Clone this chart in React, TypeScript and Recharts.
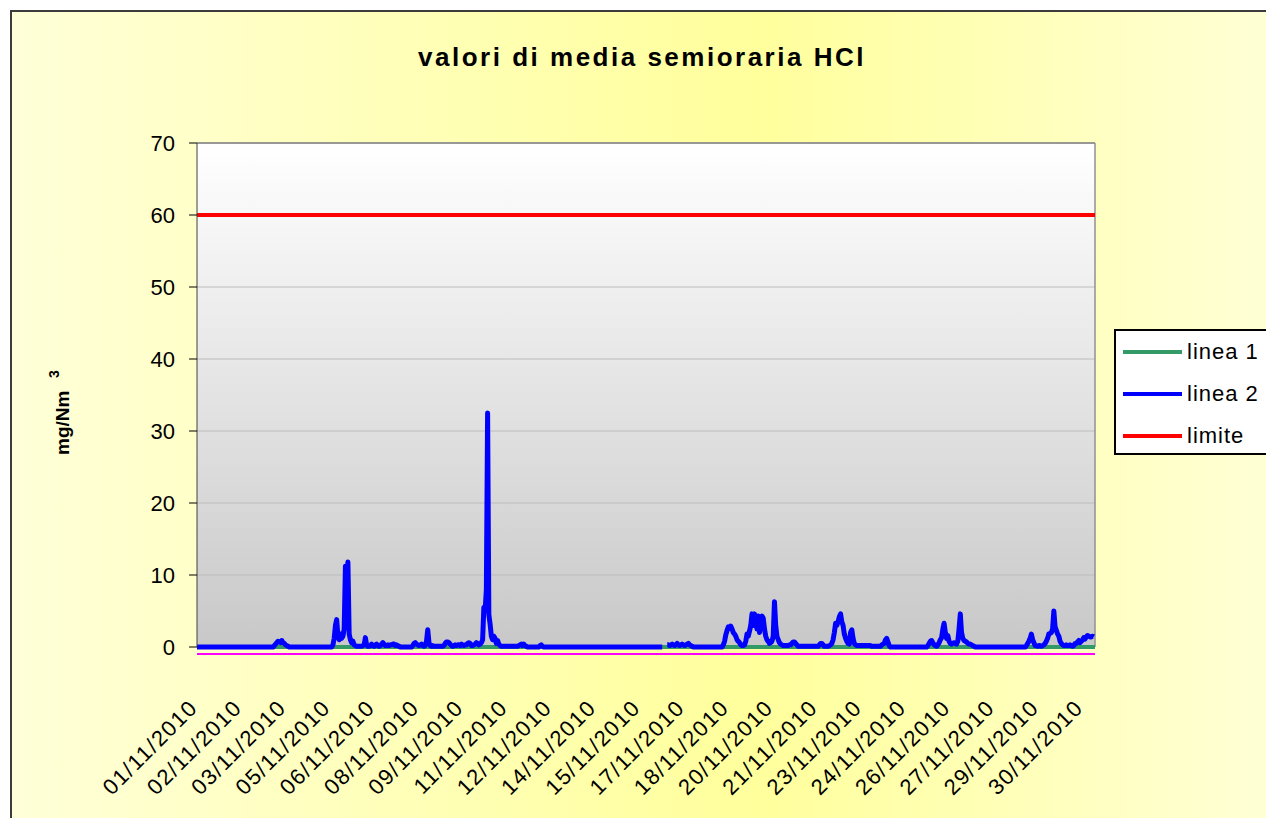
import { CartesianGrid, Line, LineChart, ReferenceLine, XAxis, YAxis } from "recharts";

const FONT = '"Liberation Sans", Arial, sans-serif';

// linea 2, hourly readings of the half-hour means, one row per day (01/11 .. 30/11)
const linea2ByDay: (number | null)[][] = [
  [0, 0, 0, 0, 0, 0, 0, 0, 0, 0, 0, 0, 0, 0, 0, 0, 0, 0, 0, 0, 0, 0, 0, 0],
  [0, 0, 0, 0, 0, 0, 0, 0, 0, 0, 0, 0, 0, 0, 0, 0, 0, 0, 0, 0, 0, 0, 0, 0],
  [0, 0, 0, 0, 0, 0, 0, 0, 0, 0, 0, 0, 0, 0, 0.2, 0.4, 0.6, 0.8, 0.7, 0.6, 0.9, 0.6, 0.5, 0.3],
  [0.2, 0.1, 0, 0, 0, 0, 0, 0, 0, 0, 0, 0, 0, 0, 0, 0, 0, 0, 0, 0, 0, 0, 0, 0],
  [0, 0, 0, 0, 0, 0, 0, 0, 0, 0, 0, 0, 0, 0.3, 1.2, 3.0, 3.8, 1.5, 1.0, 1.8, 1.2, 1.5, 2.5, 11.2],
  [10.0, 11.8, 1.8, 1.0, 0.6, 0.8, 0.3, 0.2, 0.1, 0.1, 0.1, 0.1, 0.1, 0.2, 0.3, 1.3, 0.3, 0.1, 0.1, 0.2, 0.4, 0.2, 0.1, 0.3],
  [0.4, 0.2, 0.1, 0.2, 0.4, 0.6, 0.4, 0.2, 0.2, 0.3, 0.2, 0.3, 0.3, 0.4, 0.4, 0.2, 0.3, 0.2, 0.1, 0, 0, 0, 0, 0],
  [0, 0, 0, 0, 0, 0.2, 0.5, 0.6, 0.4, 0.3, 0.2, 0.3, 0.4, 0.2, 0.1, 0.2, 0.8, 2.4, 0.6, 0.2, 0.1, 0.2, 0.1, 0.1],
  [0.1, 0.1, 0.1, 0.1, 0.1, 0.1, 0.2, 0.5, 0.7, 0.7, 0.6, 0.4, 0.2, 0.1, 0.2, 0.3, 0.2, 0.3, 0.3, 0.2, 0.4, 0.3, 0.2, 0.3],
  [0.3, 0.5, 0.6, 0.5, 0.2, 0.2, 0.3, 0.4, 0.6, 0.5, 0.3, 0.4, 0.6, 1.0, 5.5, 5.0, 8.0, 32.5, 4.5, 3.2, 1.5, 1.0, 1.5, 1.2],
  [0.5, 0.9, 0.4, 0.2, 0.1, 0.1, 0.1, 0.1, 0.1, 0.1, 0.1, 0.1, 0.1, 0.1, 0.1, 0.1, 0.1, 0.1, 0.2, 0.3, 0.4, 0.2, 0.4, 0.2],
  [0.1, 0, 0, 0, 0, 0, 0, 0, 0, 0, 0, 0.2, 0.3, 0.1, 0, 0, 0, 0, 0, 0, 0, 0, 0, 0],
  [0, 0, 0, 0, 0, 0, 0, 0, 0, 0, 0, 0, 0, 0, 0, 0, 0, 0, 0, 0, 0, 0, 0, 0],
  [0, 0, 0, 0, 0, 0, 0, 0, 0, 0, 0, 0, 0, 0, 0, 0, 0, 0, 0, 0, 0, 0, 0, 0],
  [0, 0, 0, 0, 0, 0, 0, 0, 0, 0, 0, 0, 0, 0, 0, 0, 0, 0, 0, 0, 0, 0, 0, 0],
  [0, 0, 0, 0, 0, 0, 0, 0, 0, 0, 0, 0, 0, 0, null, null, null, 0.3, 0.3, 0.2, 0.3, 0.4, 0.3, 0.2],
  [0.3, 0.5, 0.3, 0.2, 0.3, 0.4, 0.3, 0.2, 0.3, 0.4, 0.5, 0.3, 0.2, 0.1, 0, 0, 0, 0, 0, 0, 0, 0, 0, 0],
  [0, 0, 0, 0, 0, 0, 0, 0, 0, 0, 0, 0, 0, 0, 0.3, 0.8, 1.7, 2.3, 2.8, 2.6, 2.9, 2.5, 2.0, 1.8],
  [1.5, 1.0, 0.8, 0.6, 0.3, 0.2, 0.2, 0.3, 0.8, 1.8, 1.5, 2.2, 3.0, 4.6, 3.0, 4.6, 3.5, 2.5, 4.3, 2.0, 3.8, 4.3, 4.0, 2.5],
  [1.5, 1.0, 0.8, 0.5, 0.6, 0.8, 1.5, 6.3, 3.0, 1.5, 1.0, 0.6, 0.4, 0.3, 0.2, 0.2, 0.2, 0.2, 0.2, 0.3, 0.3, 0.5, 0.7, 0.7],
  [0.5, 0.3, 0.1, 0.1, 0.1, 0.1, 0.1, 0.1, 0.1, 0.1, 0.1, 0.1, 0.1, 0.1, 0.1, 0.1, 0.1, 0.1, 0.1, 0.3, 0.5, 0.5, 0.3, 0.1],
  [0.1, 0.1, 0.1, 0.2, 0.3, 0.5, 1.0, 2.0, 3.3, 3.0, 3.5, 4.2, 4.6, 3.5, 3.0, 1.8, 1.2, 0.8, 0.5, 0.4, 2.0, 2.4, 1.2, 0.5],
  [0.3, 0.2, 0.2, 0.2, 0.2, 0.2, 0.2, 0.2, 0.2, 0.2, 0.2, 0.2, 0.2, 0.1, 0.1, 0.1, 0.1, 0.1, 0.1, 0.1, 0.1, 0.3, 0.4, 0.5],
  [1.0, 1.2, 0.7, 0.2, 0, 0, 0, 0, 0, 0, 0, 0, 0, 0, 0, 0, 0, 0, 0, 0, 0, 0, 0, 0],
  [0, 0, 0, 0, 0, 0, 0, 0, 0, 0, 0.2, 0.5, 0.8, 0.9, 0.6, 0.3, 0.2, 0.1, 0.3, 0.6, 1.0, 1.3, 2.5, 3.3],
  [2.0, 1.2, 1.6, 0.8, 0.5, 0.4, 0.5, 0.6, 0.5, 0.4, 0.8, 2.5, 4.6, 2.0, 1.2, 0.9, 0.8, 0.7, 0.5, 0.4, 0.4, 0.3, 0.2, 0.1],
  [0, 0, 0, 0, 0, 0, 0, 0, 0, 0, 0, 0, 0, 0, 0, 0, 0, 0, 0, 0, 0, 0, 0, 0],
  [0, 0, 0, 0, 0, 0, 0, 0, 0, 0, 0, 0, 0, 0, 0, 0, 0, 0.2, 0.5, 0.8, 1.2, 1.8, 1.0, 0.6],
  [0.2, 0.2, 0.1, 0.2, 0.2, 0.1, 0.2, 0.3, 0.5, 0.8, 1.2, 1.8, 1.9, 2.0, 2.5, 5.0, 2.8, 2.3, 1.8, 1.5, 0.8, 0.5, 0.3, 0.2],
  [0.2, 0.3, 0.2, 0.2, 0.3, 0.2, 0.1, 0.2, 0.5, 0.5, 0.7, 0.9, 0.6, 0.8, 1.0, 1.3, 1.1, 1.4, 1.6, 1.5, 1.4, 1.4, 1.5, 1.4],
];

// linea 1 sits on zero the whole month (one reading per day boundary)
const linea1Daily = [0, 0, 0, 0, 0, 0, 0, 0, 0, 0, 0, 0, 0, 0, 0, 0, 0, 0, 0, 0, 0, 0, 0, 0, 0, 0, 0, 0, 0, 0, 0];

const limiteHours = [0, 720];
const limiteValues = [60, 60];

const yTicks = [0, 10, 20, 30, 40, 50, 60, 70];
const tickMarkHours = [0, 25, 50, 75, 100, 125, 150, 175, 200, 225, 250, 275, 300, 325, 350, 375, 400, 425, 450, 475, 500, 525, 550, 575, 600, 625, 650, 675, 700];
const labelHours = [0, 35.5, 71, 106.5, 142, 177.5, 213, 248.5, 284, 319.5, 355, 390.5, 426, 461.5, 497, 532.5, 568, 603.5, 639, 674.5, 710];
const tickLabels = [
  "01/11/2010", "02/11/2010", "03/11/2010", "05/11/2010", "06/11/2010", "08/11/2010", "09/11/2010",
  "11/11/2010", "12/11/2010", "14/11/2010", "15/11/2010", "17/11/2010", "18/11/2010", "20/11/2010",
  "21/11/2010", "23/11/2010", "24/11/2010", "26/11/2010", "27/11/2010", "29/11/2010", "30/11/2010",
];

const linea2Data = linea2ByDay.flat().map((v, h) => ({ h, v }));
const linea1Data = linea1Daily.map((v, d) => ({ h: d * 24, v }));
const limiteData = limiteHours.map((h, i) => ({ h, v: limiteValues[i] }));

const legendItems = [
  { name: "linea 1", color: "#339966" },
  { name: "linea 2", color: "#0000ff" },
  { name: "limite", color: "#ff0000" },
];

function DateTick(props: any) {
  const { x, y, payload } = props;
  const i = labelHours.indexOf(payload.value);
  const ax = x + 2;
  const ay = y + 55;
  return (
    <text
      x={ax}
      y={ay}
      transform={`rotate(-45 ${ax} ${ay})`}
      textAnchor="end"
      fontSize={22}
      fontFamily={FONT}
      letterSpacing={1.5}
      fill="#000"
    >
      {tickLabels[i]}
    </text>
  );
}

function UnitLabel() {
  return (
    <g fontFamily={FONT} fontWeight={700} fill="#000">
      <text x={69} y={455} transform="rotate(-90 69 455)" fontSize={19}>
        mg/Nm
      </text>
      <text x={59} y={378} transform="rotate(-90 59 378)" fontSize={14}>
        3
      </text>
    </g>
  );
}

export default function App() {
  return (
    <div
      style={{
        position: "absolute",
        left: 0,
        top: 0,
        width: 1266,
        height: 818,
        overflow: "hidden",
        background: "#fff",
        fontFamily: FONT,
      }}
    >
      <div
        style={{
          position: "absolute",
          left: 10,
          top: 10,
          width: 1280,
          height: 830,
          borderTop: "2px solid #3c3c3c",
          borderLeft: "2px solid #3c3c3c",
          background: "linear-gradient(90deg, #ffffd8 0%, #ffff9c 58%, #ffffd8 100%)",
        }}
      />
      <div
        style={{
          position: "absolute",
          left: 0,
          top: 42,
          width: 1284,
          textAlign: "center",
          fontSize: 26,
          fontWeight: 700,
          letterSpacing: 2.5,
          color: "#000",
        }}
      >
        valori di media semioraria HCl
      </div>
      <div style={{ position: "absolute", left: 0, top: 0 }}>
        <LineChart width={1266} height={818} margin={{ top: 143, right: 171, bottom: 64, left: 137 }}>
          <defs>
            <linearGradient id="plotBg" x1="0" y1="0" x2="0" y2="1">
              <stop offset="0%" stopColor="#ffffff" />
              <stop offset="100%" stopColor="#c8c8c8" />
            </linearGradient>
          </defs>
          <CartesianGrid vertical={false} stroke="#bcbcbc" fill="url(#plotBg)" fillOpacity={1} />
          <XAxis
            xAxisId="axisB"
            dataKey="h"
            type="number"
            domain={[0, 720]}
            ticks={labelHours}
            interval={0}
            height={100}
            tickSize={0}
            tickMargin={0}
            tickLine={false}
            axisLine={{ stroke: "#ff00ff", strokeWidth: 2 }}
            tick={<DateTick />}
          />
          <XAxis
            xAxisId="axisA"
            dataKey="h"
            type="number"
            domain={[0, 720]}
            ticks={tickMarkHours}
            interval={0}
            height={7}
            tick={false}
            tickSize={7}
            axisLine={false}
            tickLine={{ stroke: "#000" }}
          />
          <YAxis
            type="number"
            domain={[0, 70]}
            ticks={yTicks}
            interval={0}
            width={60}
            tickSize={8}
            tickMargin={14}
            axisLine={{ stroke: "#404040" }}
            tickLine={{ stroke: "#000" }}
            tick={{ fontSize: 22, fill: "#000", fontFamily: FONT }}
            label={<UnitLabel />}
          />
          <ReferenceLine xAxisId="axisA" y={70} stroke="#808080" strokeWidth={1.5} />
          <ReferenceLine xAxisId="axisA" x={720} stroke="#909090" strokeWidth={1.5} />
          <Line
            xAxisId="axisA"
            data={linea1Data}
            dataKey="v"
            name="linea 1"
            stroke="#339966"
            strokeWidth={4}
            dot={false}
            activeDot={false}
            isAnimationActive={false}
          />
          <Line
            xAxisId="axisB"
            data={linea2Data}
            dataKey="v"
            name="linea 2"
            stroke="#0000ff"
            strokeWidth={5}
            strokeLinejoin="round"
            dot={false}
            activeDot={false}
            connectNulls={false}
            isAnimationActive={false}
          />
          <Line
            xAxisId="axisB"
            data={limiteData}
            dataKey="v"
            name="limite"
            stroke="#ff0000"
            strokeWidth={4}
            dot={false}
            activeDot={false}
            isAnimationActive={false}
          />
        </LineChart>
      </div>
      <div
        style={{
          position: "absolute",
          left: 1114,
          top: 329,
          width: 160,
          height: 126,
          boxSizing: "border-box",
          background: "#fff",
          border: "2px solid #000",
        }}
      >
        {legendItems.map((s, i) => (
          <div
            key={s.name}
            style={{ position: "absolute", left: 7, top: 7 + i * 42, height: 28, display: "flex", alignItems: "center" }}
          >
            <span style={{ display: "inline-block", width: 59, height: 4, background: s.color, marginRight: 5 }} />
            <span style={{ fontSize: 22, letterSpacing: 1, color: "#000" }}>{s.name}</span>
          </div>
        ))}
      </div>
    </div>
  );
}
